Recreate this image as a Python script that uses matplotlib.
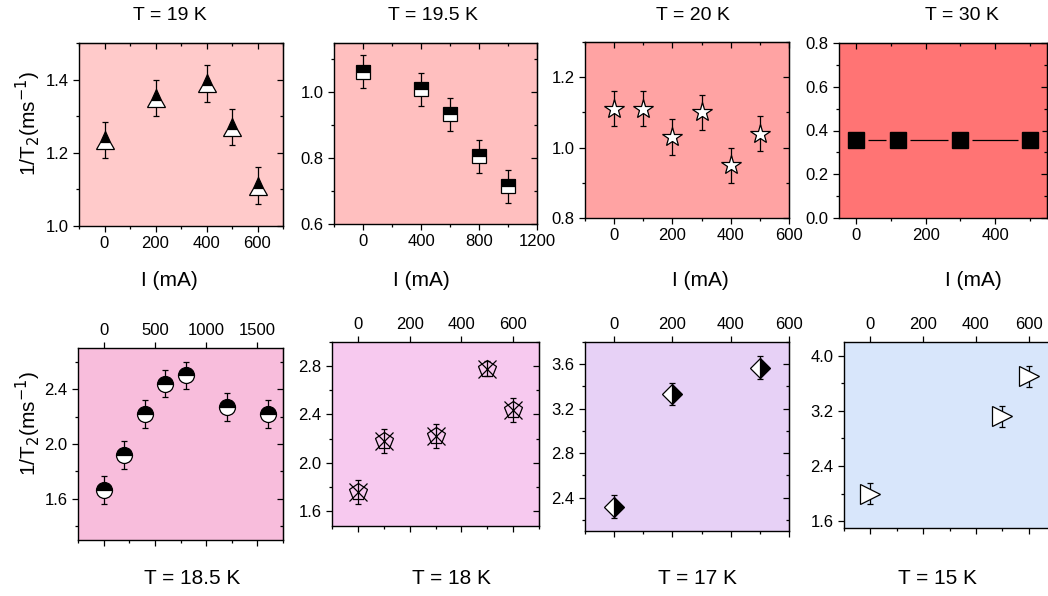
import matplotlib
matplotlib.use("Agg")
import matplotlib.pyplot as plt
from matplotlib.ticker import MultipleLocator

plt.rcParams['font.family'] = ['Liberation Sans', 'DejaVu Sans']

# ---- data -------------------------------------------------------------
temps_top = ["T = 19 K", "T = 19.5 K", "T = 20 K", "T = 30 K"]
temps_bottom = ["T = 18.5 K", "T = 18 K", "T = 17 K", "T = 15 K"]

i_19 = [0, 200, 400, 500, 600]
r_19 = [1.235, 1.35, 1.39, 1.27, 1.11]
e_19 = [0.05, 0.05, 0.05, 0.05, 0.05]

i_195 = [0, 400, 600, 800, 1000]
r_195 = [1.063, 1.01, 0.934, 0.806, 0.714]
e_195 = [0.05, 0.05, 0.05, 0.05, 0.05]

i_20 = [0, 100, 200, 300, 400, 500]
r_20 = [1.11, 1.11, 1.03, 1.10, 0.95, 1.04]
e_20 = [0.05, 0.05, 0.05, 0.05, 0.05, 0.05]

i_30 = [0, 120, 300, 500]
r_30 = [0.355, 0.355, 0.355, 0.355]

i_185 = [0, 200, 400, 600, 800, 1200, 1600]
r_185 = [1.665, 1.92, 2.22, 2.44, 2.50, 2.27, 2.22]
e_185 = [0.10, 0.10, 0.10, 0.10, 0.10, 0.10, 0.10]

i_18 = [0, 100, 300, 500, 600]
r_18 = [1.76, 2.18, 2.22, 2.78, 2.44]
e_18 = [0.10, 0.10, 0.10, 0.06, 0.10]

i_17 = [0, 200, 500]
r_17 = [2.32, 3.33, 3.57]
e_17 = [0.10, 0.10, 0.10]

i_15 = [0, 500, 600]
r_15 = [2.00, 3.12, 3.70]
e_15 = [0.15, 0.15, 0.15]

W, H = 1048, 596
fig = plt.figure(figsize=(W / 100, H / 100), dpi=100)


def rect(x0, x1, y0, y1):
    return [x0 / W, 1 - y1 / H, (x1 - x0) / W, (y1 - y0) / H]


def make_axes(box, bg, xlim, ylim, xmaj, xmin, ymaj, ymin, top_labels=False):
    ax = fig.add_axes(rect(*box))
    ax.set_facecolor(bg)
    ax.set_xlim(*xlim)
    ax.set_ylim(*ylim)
    ax.xaxis.set_major_locator(MultipleLocator(xmaj))
    ax.xaxis.set_minor_locator(MultipleLocator(xmin))
    ax.yaxis.set_major_locator(MultipleLocator(ymaj))
    ax.yaxis.set_minor_locator(MultipleLocator(ymin))
    for s in ax.spines.values():
        s.set_linewidth(1.0)
    ax.tick_params(which='both', direction='out', labelsize=12, width=0.9,
                   top=False, right=False)
    ax.tick_params(which='major', length=4)
    ax.tick_params(which='minor', length=2.5)
    if top_labels:
        ax.tick_params(labelbottom=False, labeltop=True, top=True, bottom=True)
    else:
        sx = ax.secondary_xaxis('top')
        sx.xaxis.set_major_locator(MultipleLocator(xmaj))
        sx.xaxis.set_minor_locator(MultipleLocator(xmin))
        sx.tick_params(which='both', direction='in', labeltop=False, width=0.9)
        sx.tick_params(which='major', length=4)
        sx.tick_params(which='minor', length=2.5)
    sy = ax.secondary_yaxis('right')
    sy.yaxis.set_major_locator(MultipleLocator(ymaj))
    sy.yaxis.set_minor_locator(MultipleLocator(ymin))
    sy.tick_params(which='both', direction='in', labelright=False, width=0.9)
    sy.tick_params(which='major', length=4)
    sy.tick_params(which='minor', length=2.5)
    return ax


def draw(ax, x, y, err, **mk):
    ax.errorbar(x, y, yerr=err, fmt='none', ecolor='black', elinewidth=0.9,
                capsize=2.2, capthick=0.9, zorder=2)
    ax.plot(x, y, linestyle='none', zorder=3, **mk)


half_top = dict(fillstyle='top', markerfacecolor='black',
                markerfacecoloralt='white', markeredgecolor='black',
                markeredgewidth=0.9)

# ---- top row ----------------------------------------------------------
ax1 = make_axes((79, 283, 43, 226), '#FFCACA', (-100, 700), (1.0, 1.5),
                200, 100, 0.2, 0.1)
draw(ax1, i_19, r_19, e_19, marker='^', markersize=13, **half_top)

ax2 = make_axes((334, 537, 43, 224), '#FFBFBF', (-200, 1200), (0.6, 1.15),
                400, 200, 0.2, 0.1)
draw(ax2, i_195, r_195, e_195, marker='s', markersize=10.5, **half_top)

ax3 = make_axes((585, 789, 42, 218), '#FFA3A3', (-100, 600), (0.8, 1.3),
                200, 100, 0.2, 0.1)
draw(ax3, i_20, r_20, e_20, marker='*', markersize=15,
     markerfacecolor='white', markeredgecolor='black', markeredgewidth=0.9)

ax4 = make_axes((839, 1047, 43, 218), '#FF7474', (-50, 550), (0.0, 0.8),
                200, 100, 0.2, 0.1)
ax4.plot(i_30, r_30, color='black', linewidth=0.9, zorder=1)
ax4.plot(i_30, r_30, linestyle='none', marker='s', markersize=17,
         markerfacecolor='#FF7474', markeredgecolor='none', zorder=2)
ax4.plot(i_30, r_30, linestyle='none', marker='s', markersize=11,
         markerfacecolor='black', markeredgecolor='black', zorder=3)

# ---- bottom row -------------------------------------------------------
ax5 = make_axes((78, 283, 348, 540), '#F8BDDC', (-250, 1750), (1.3, 2.7),
                500, 250, 0.4, 0.2, top_labels=True)
draw(ax5, i_185, r_185, e_185, marker='o', markersize=11.5, **half_top)

ax6 = make_axes((332, 539, 342, 526), '#F7C9EF', (-100, 700), (1.476, 3.0),
                200, 100, 0.4, 0.2, top_labels=True)
draw(ax6, i_18, r_18, e_18, marker='p', markersize=13,
     markerfacecolor='none', markeredgecolor='black', markeredgewidth=0.9)
ax6.plot(i_18, r_18, linestyle='none', marker='x', markersize=13,
         markeredgecolor='black', markeredgewidth=0.9, zorder=4)

ax7 = make_axes((585, 789, 342, 531), '#E7D1F6', (-100, 600), (2.1, 3.8),
                200, 100, 0.4, 0.2, top_labels=True)
draw(ax7, i_17, r_17, e_17, marker='D', markersize=10.5,
     fillstyle='right', markerfacecolor='black', markerfacecoloralt='white',
     markeredgecolor='black', markeredgewidth=0.9)

ax8 = make_axes((844, 1055, 342, 528), '#D8E6FB', (-100, 700), (1.5, 4.2),
                200, 100, 0.8, 0.4, top_labels=True)
draw(ax8, i_15, r_15, e_15, marker='>', markersize=14,
     markerfacecolor='white', markeredgecolor='black', markeredgewidth=0.9)

# ---- labels -----------------------------------------------------------
for txt, xc in zip(temps_top, [170, 433, 693, 962]):
    fig.text(xc / W, 1 - 15 / H, txt, ha='center', va='center', fontsize=14)
for xc in [169, 421, 700, 973]:
    fig.text(xc / W, 1 - 280 / H, "I (mA)", ha='center', va='center', fontsize=15)
for txt, xc in zip(temps_bottom, [192, 452, 697, 937]):
    fig.text(xc / W, 1 - 578 / H, txt, ha='center', va='center', fontsize=15)

ylab = r"1/T$_2$(ms$^{-1}$)"
fig.text(28 / W, 1 - 123 / H, ylab, rotation=90, ha='center', va='center', fontsize=15)
fig.text(28 / W, 1 - 423 / H, ylab, rotation=90, ha='center', va='center', fontsize=15)

fig.savefig("out.png", dpi=100)
